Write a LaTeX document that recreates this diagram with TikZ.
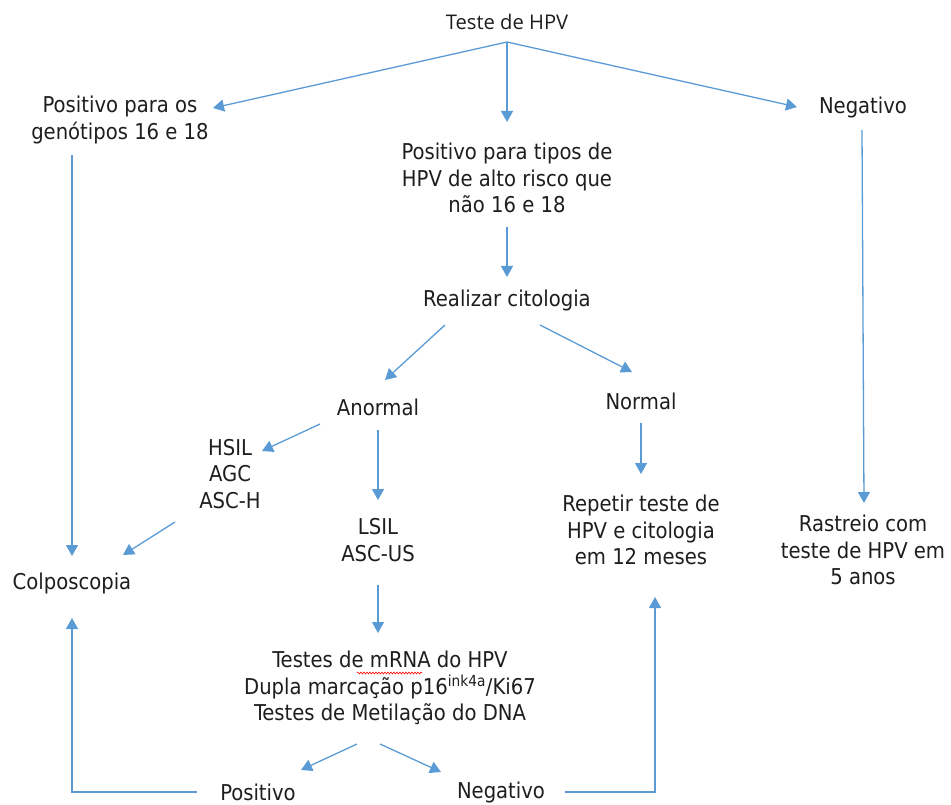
\documentclass[tikz,border=0pt]{standalone}
\usepackage{fontspec}
\setmainfont{DejaVu Sans Condensed}
\newfontfamily\titlefont{Open Sans}
\usetikzlibrary{arrows.meta,decorations.pathmorphing}
\definecolor{arrowblue}{RGB}{91,155,213}
\definecolor{txt}{RGB}{30,30,30}
\tikzset{
  lbl/.style={align=center,text=txt,font=\fontsize{21.8}{26.5}\selectfont,inner sep=0pt},
  conn/.style={draw=arrowblue,line width=1.3pt,-{Triangle[length=11pt,width=12pt]}},
}
\begin{document}
\begin{tikzpicture}[x=1pt,y=-1pt]
\useasboundingbox (0,0) rectangle (951,805);
\node[lbl,font=\titlefont\fontsize{20.2}{24}\selectfont] (teste) at (507,22) {Teste de HPV};
\node[lbl] (pos1618) at (120,120) {Positivo para os\\genótipos 16 e 18};
\node[lbl] (neg) at (863,107) {Negativo};
\node[lbl] (posalto) at (507,178) {Positivo para tipos de\\HPV de alto risco que\\não 16 e 18};
\node[lbl] (cito) at (507,300) {Realizar citologia};
\node[lbl] (anormal) at (378,407) {Anormal};
\node[lbl] (normal) at (641,401) {Normal};
\node[lbl] (hsil) at (230,474) {HSIL\\AGC\\ASC-H};
\node[lbl] (lsil) at (378,540) {LSIL\\ASC-US};
\node[lbl] (repetir) at (641,530) {Repetir teste de\\HPV e citologia\\em 12 meses};
\node[lbl] (rastreio) at (863,550) {Rastreio com\\teste de HPV em\\5 anos};
\node[lbl] (colpo) at (72,583) {Colposcopia};
\node[lbl] (testes) at (390,688) {Testes de mRNA do HPV\\Dupla marcação p16\textsuperscript{ink4a}/Ki67\\Testes de Metilação do DNA};
\node[lbl] (posb) at (258,792) {Positivo};
\node[lbl] (negb) at (501,792) {Negativo};

\coordinate (t0) at (507,42);
\draw[conn] (t0) -- (213,108);
\draw[conn] (t0) -- (507,122);
\draw[conn] (t0) -- (797,107);
\draw[conn] (72,155) -- (72,556);
\draw[conn] (507,227) -- (507,277);
\draw[conn] (445,325) -- (385,380);
\draw[conn] (540,325) -- (632,372);
\draw[conn] (320,424) -- (262,451);
\draw[conn] (378,430) -- (378,500);
\draw[conn] (641,423) -- (641,474);
\draw[conn] (862,130) -- (864,503);
\draw[conn] (175,522) -- (123,555);
\draw[conn] (378,585) -- (378,633);
\draw[conn] (357,744) -- (301,770);
\draw[conn] (380,744) -- (441,772);
\draw[conn] (197,792) -- (72,792) -- (72,618);
\draw[conn] (565,792) -- (655,792) -- (655,597);
\draw[red,line width=0.6pt,decorate,decoration={snake,amplitude=0.9pt,segment length=3pt}] (357,673) -- (422,673);
\end{tikzpicture}
\end{document}
